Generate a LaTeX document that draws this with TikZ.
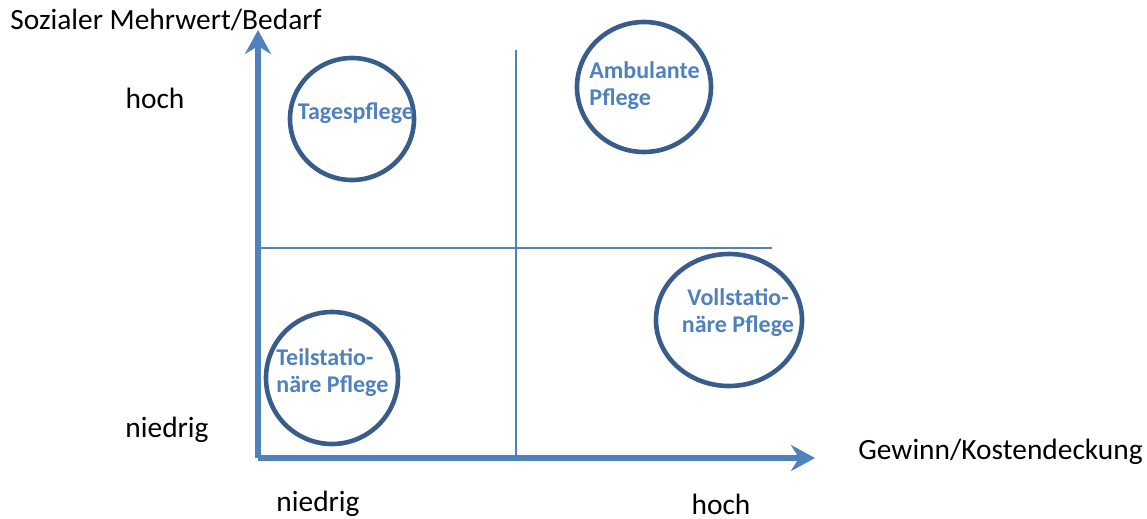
\documentclass[tikz,border=0pt]{standalone}
\usepackage{fontspec}
\setmainfont{Carlito}
\usetikzlibrary{arrows.meta}
\definecolor{axisblue}{RGB}{79,129,189}
\definecolor{ringblue}{RGB}{56,93,138}
\begin{document}
\begin{tikzpicture}[x=0.5pt, y=-0.5pt,
  every node/.style={inner sep=0pt, font=\fontsize{14.7}{17}\selectfont},
  ring/.style={draw=ringblue, line width=2.3pt},
  tag/.style={font=\fontsize{12}{13.5}\selectfont\bfseries, text=axisblue, align=#1},
  tag/.default=center,
  axis/.style={draw=axisblue, line width=3pt, -{Stealth[length=12pt, width=13pt, inset=4pt]}},
  grid/.style={draw=axisblue, line width=0.8pt}]
\useasboundingbox (0,0) rectangle (1147,519);

% axes
\coordinate (o) at (258,458);
\coordinate (ytop) at (258,30);
\coordinate (xend) at (815,458);
\coordinate (vtop) at (516,50);
\coordinate (vbot) at (516,458);
\coordinate (hl) at (258,248);
\coordinate (hr) at (772,248);
\draw[grid] (vtop) -- (vbot);
\draw[grid] (hl) -- (hr);
\draw[axis] (o) -- (ytop);
\draw[axis] (o) -- (xend);

% circles
\draw[ring] (352,119) ellipse [x radius=62, y radius=61];
\draw[ring] (644,87) ellipse [x radius=67, y radius=65];
\draw[ring] (332,378) ellipse [x radius=66, y radius=66];
\draw[ring] (729,320) ellipse [x radius=73, y radius=66];

% labels
\node[tag] (tages) at (356,113) {Tagespflege};
\node[tag=left, anchor=west] (amb) at (589,86) {Ambulante\\Pflege};
\node[tag] (voll) at (738,313) {Vollstatio-\\näre Pflege};
\node[tag=left, anchor=west] (teil) at (276,373) {Teilstatio-\\näre Pflege};

\node (yhoch) at (155,98) {hoch};
\node (ynied) at (167,430) {niedrig};
\node (xnied) at (318,504) {niedrig};
\node (xhoch) at (721,504) {hoch};
\node[anchor=west] (ylab) at (10,20) {Sozialer Mehrwert/Bedarf};
\node[anchor=west] (xlab) at (858,452) {Gewinn/Kostendeckung};
\end{tikzpicture}
\end{document}
